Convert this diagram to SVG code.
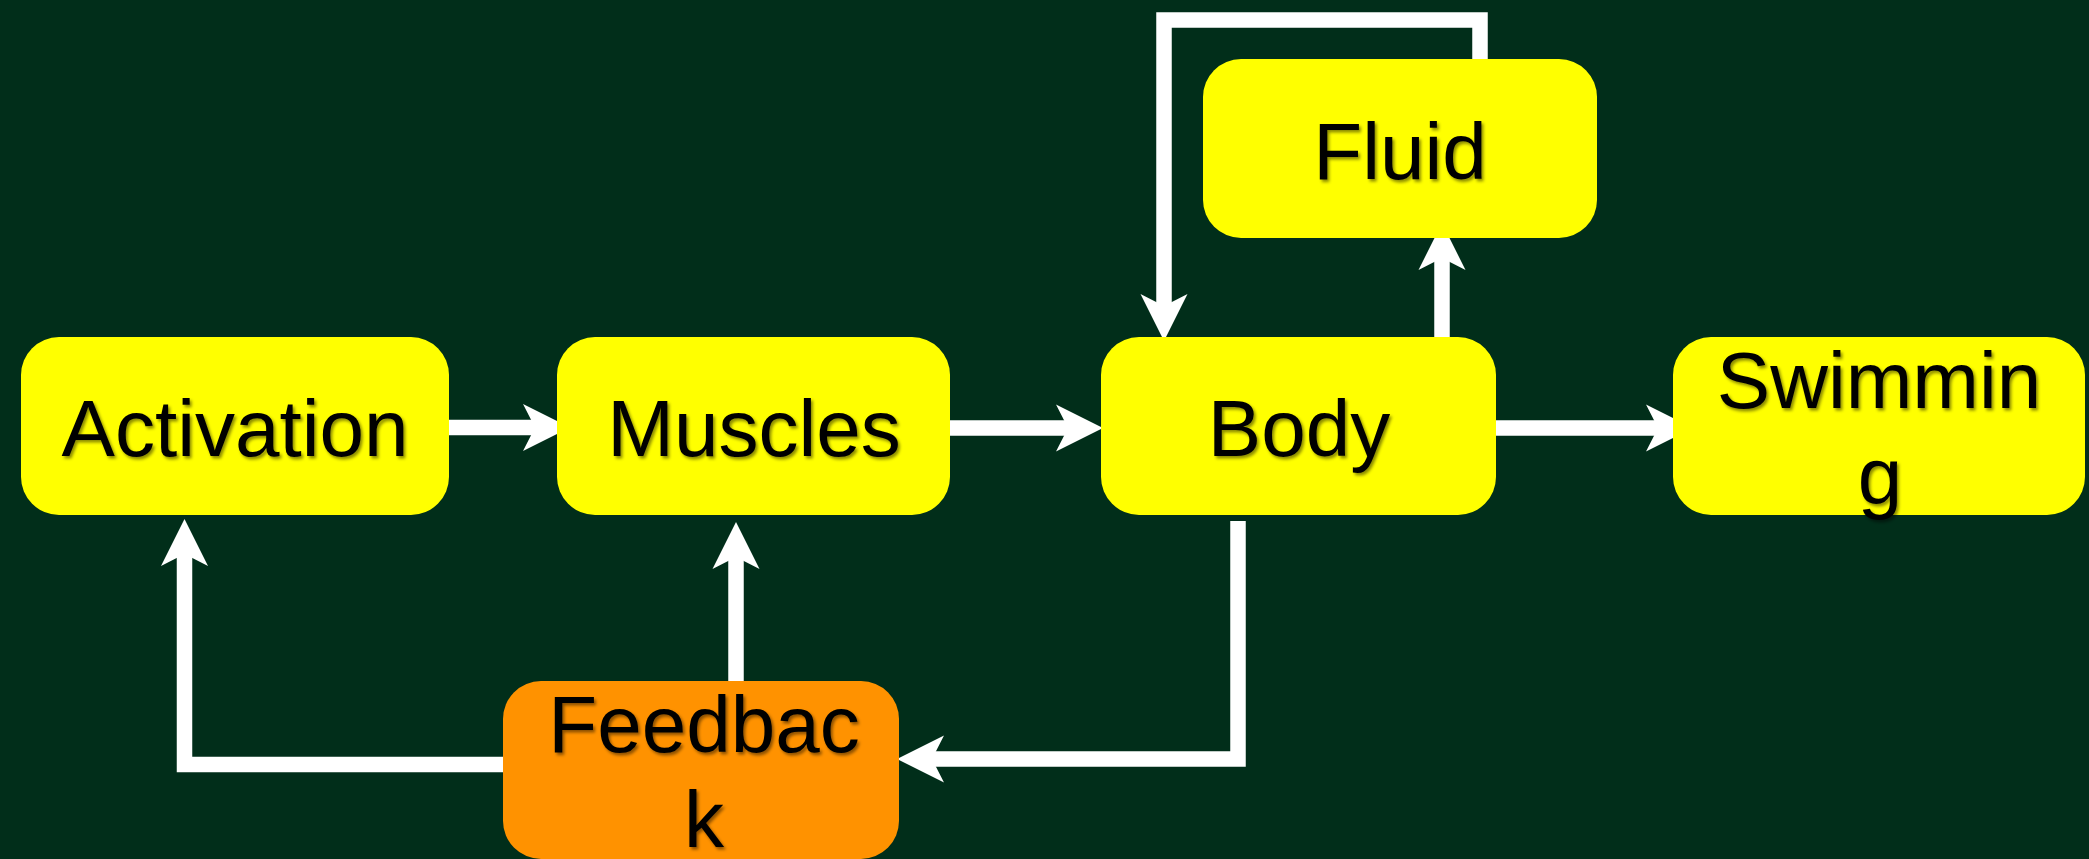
<svg xmlns="http://www.w3.org/2000/svg" width="2089" height="859" viewBox="0 0 2089 859">
<style>
.node{fill:#ffff00}
.fb{fill:#ff9200}
.lbl{font-family:"Liberation Sans",Arial,sans-serif;font-size:80px;fill:#000;text-anchor:middle;filter:url(#sh)}
.conn{fill:none;stroke:#fff;stroke-width:15.5;stroke-linejoin:miter;marker-end:url(#ah)}
</style>
<defs>
<filter id="sh" x="-10%" y="-10%" width="130%" height="130%">
<feDropShadow dx="2" dy="2.5" stdDeviation="1.5" flood-color="#000" flood-opacity="0.45"/>
</filter>
<marker id="ah" markerUnits="userSpaceOnUse" markerWidth="50" markerHeight="50" viewBox="0 -25 50 50" refX="12" refY="0" orient="auto" overflow="visible">
<path d="M0,-23.5 L47,0 L0,23.5 L12,0 Z" fill="#fff"/>
</marker>
</defs>
<rect width="2089" height="859" fill="#012e1a"/>
<g id="connectors">
<path class="conn" d="M449,427.5 H535"/>
<path class="conn" d="M950,428 H1068"/>
<path class="conn" d="M1496,428 H1658"/>
<path class="conn" d="M1442,337 V258"/>
<path class="conn" d="M1480,61 V20 H1164 V306"/>
<path class="conn" d="M1238,521 V759 H932"/>
<path class="conn" d="M736,681 V557"/>
<path class="conn" d="M504,764.5 H184.5 V554"/>
</g>
<g id="activation">
<rect class="node" x="21" y="337" width="428" height="178" rx="38"/>
<text class="lbl" x="235" y="456">Activation</text>
</g>
<g id="muscles">
<rect class="node" x="557" y="337" width="393" height="178" rx="38"/>
<text class="lbl" x="754" y="456">Muscles</text>
</g>
<g id="body">
<rect class="node" x="1101" y="337" width="395" height="178" rx="38"/>
<text class="lbl" x="1299" y="456">Body</text>
</g>
<g id="fluid">
<rect class="node" x="1203" y="59" width="394" height="179" rx="38"/>
<text class="lbl" x="1400" y="179">Fluid</text>
</g>
<g id="swimming">
<rect class="node" x="1673" y="337" width="412" height="178" rx="38"/>
<text class="lbl" x="1879" y="408">Swimmin</text>
<text class="lbl" x="1880" y="503">g</text>
</g>
<g id="feedback">
<rect class="fb" x="503" y="681" width="396" height="178" rx="38"/>
<text class="lbl" x="704" y="752">Feedbac</text>
<text class="lbl" x="704" y="847">k</text>
</g>
</svg>
